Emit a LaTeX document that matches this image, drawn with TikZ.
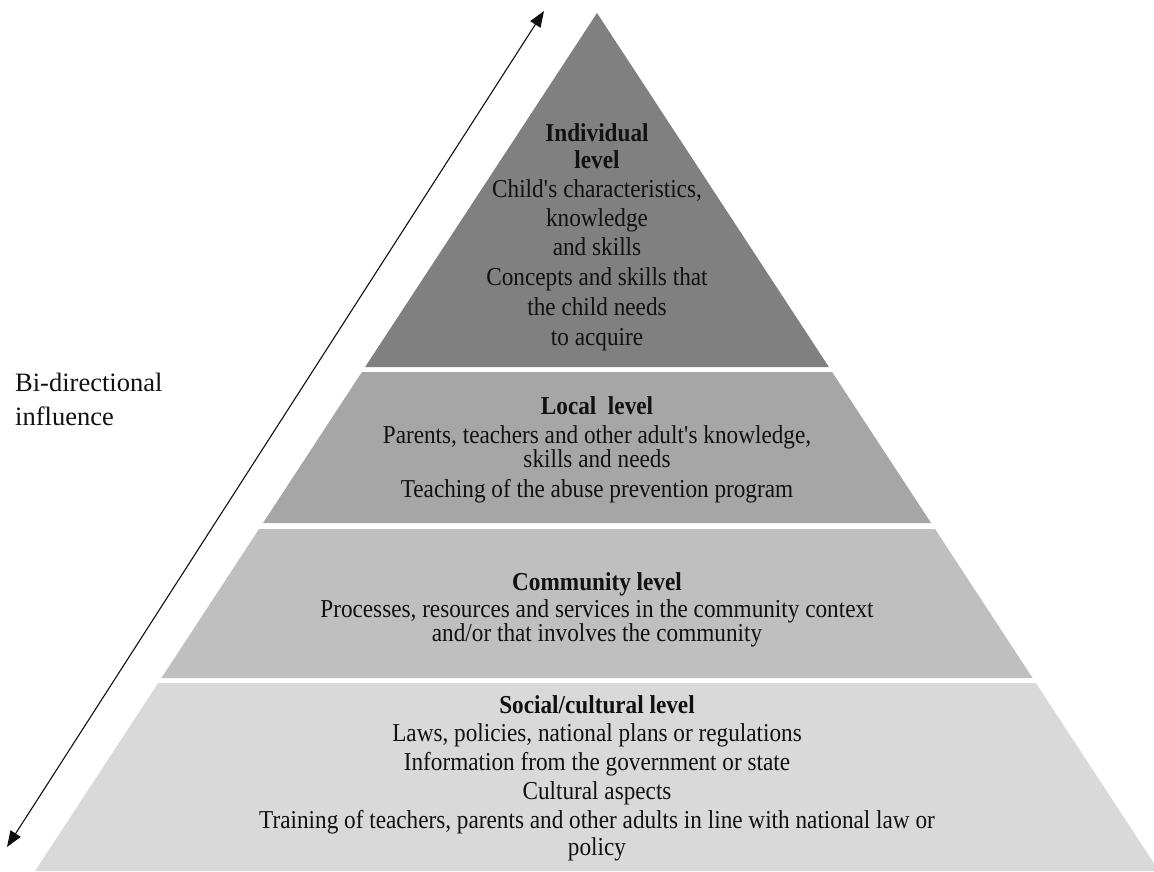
\documentclass[tikz,border=0pt]{standalone}
\usepackage{fontspec}
\setmainfont{Liberation Serif}[FakeStretch=0.9]
\newfontfamily\sideserif{Liberation Serif}
\usetikzlibrary{arrows.meta}

\definecolor{layerA}{HTML}{808080}
\definecolor{layerB}{HTML}{A6A6A6}
\definecolor{layerC}{HTML}{BFBFBF}
\definecolor{layerD}{HTML}{D9D9D9}
\definecolor{ink}{HTML}{111111}

\begin{document}
\begin{tikzpicture}[x=1pt,y=-1pt,
  txt/.style={anchor=base, inner sep=0pt, text=ink, font=\fontsize{25.8}{30}\selectfont},
  head/.style={txt, font=\fontsize{25.8}{30}\selectfont\bfseries},
  side/.style={anchor=base west, inner sep=0pt, text=ink, font=\sideserif\fontsize{26.5}{35}\selectfont},
  influence/.style={{Triangle[length=16pt,width=12pt]}-{Triangle[length=16pt,width=12pt]}, line width=1.1pt, draw=ink}]
\useasboundingbox (0,0) rectangle (1154,871);

% pyramid layers, apex at (597,13), side slope 0.655
\fill[layerA] (597,13) -- (828.9,367) -- (365.1,367) -- cycle;
\fill[layerB] (361.9,372) -- (832.1,372) -- (931.1,523) -- (263.0,523) -- cycle;
\fill[layerC] (259.0,529) -- (935.0,529) -- (1032.6,678) -- (161.4,678) -- cycle;
\fill[layerD] (158.2,683) -- (1035.9,683) -- (1159.0,871) -- (35.0,871) -- cycle;

% individual level
\node[head] (ind1) at (597,141) {Individual};
\node[head] (ind2) at (597,168) {level};
\node[txt]  (ind3) at (597,197) {Child\textquotesingle s characteristics,};
\node[txt]  (ind4) at (597,226) {knowledge};
\node[txt]  (ind5) at (597,255) {and skills};
\node[txt]  (ind6) at (597,285) {Concepts and skills that};
\node[txt]  (ind7) at (597,315) {the child needs};
\node[txt]  (ind8) at (597,345) {to acquire};

% local level
\node[head] (loc1) at (597,414) {Local\ \ level};
\node[txt]  (loc2) at (597,443) {Parents, teachers and other adult\textquotesingle s knowledge,};
\node[txt]  (loc3) at (597,467) {skills and needs};
\node[txt]  (loc4) at (597,497) {Teaching of the abuse prevention program};

% community level
\node[head] (com1) at (597,590) {Community level};
\node[txt]  (com2) at (597,617) {Processes, resources and services in the community context};
\node[txt]  (com3) at (597,641) {and/or that involves the community};

% social/cultural level
\node[head] (soc1) at (597,713) {Social/cultural level};
\node[txt]  (soc2) at (597,741) {Laws, policies, national plans or regulations};
\node[txt]  (soc3) at (597,770) {Information from the government or state};
\node[txt]  (soc4) at (597,799) {Cultural aspects};
\node[txt]  (soc5) at (597,828) {Training of teachers, parents and other adults in line with national law or};
\node[txt]  (soc6) at (597,855) {policy};

% bi-directional influence arrow and its label
\coordinate (arrTop) at (544,11);
\coordinate (arrBot) at (7,847);
\draw[influence] (arrBot) -- (arrTop);
\node[side] (lab1) at (15,391) {Bi-directional};
\node[side] (lab2) at (15,425) {influence};
\end{tikzpicture}
\end{document}
